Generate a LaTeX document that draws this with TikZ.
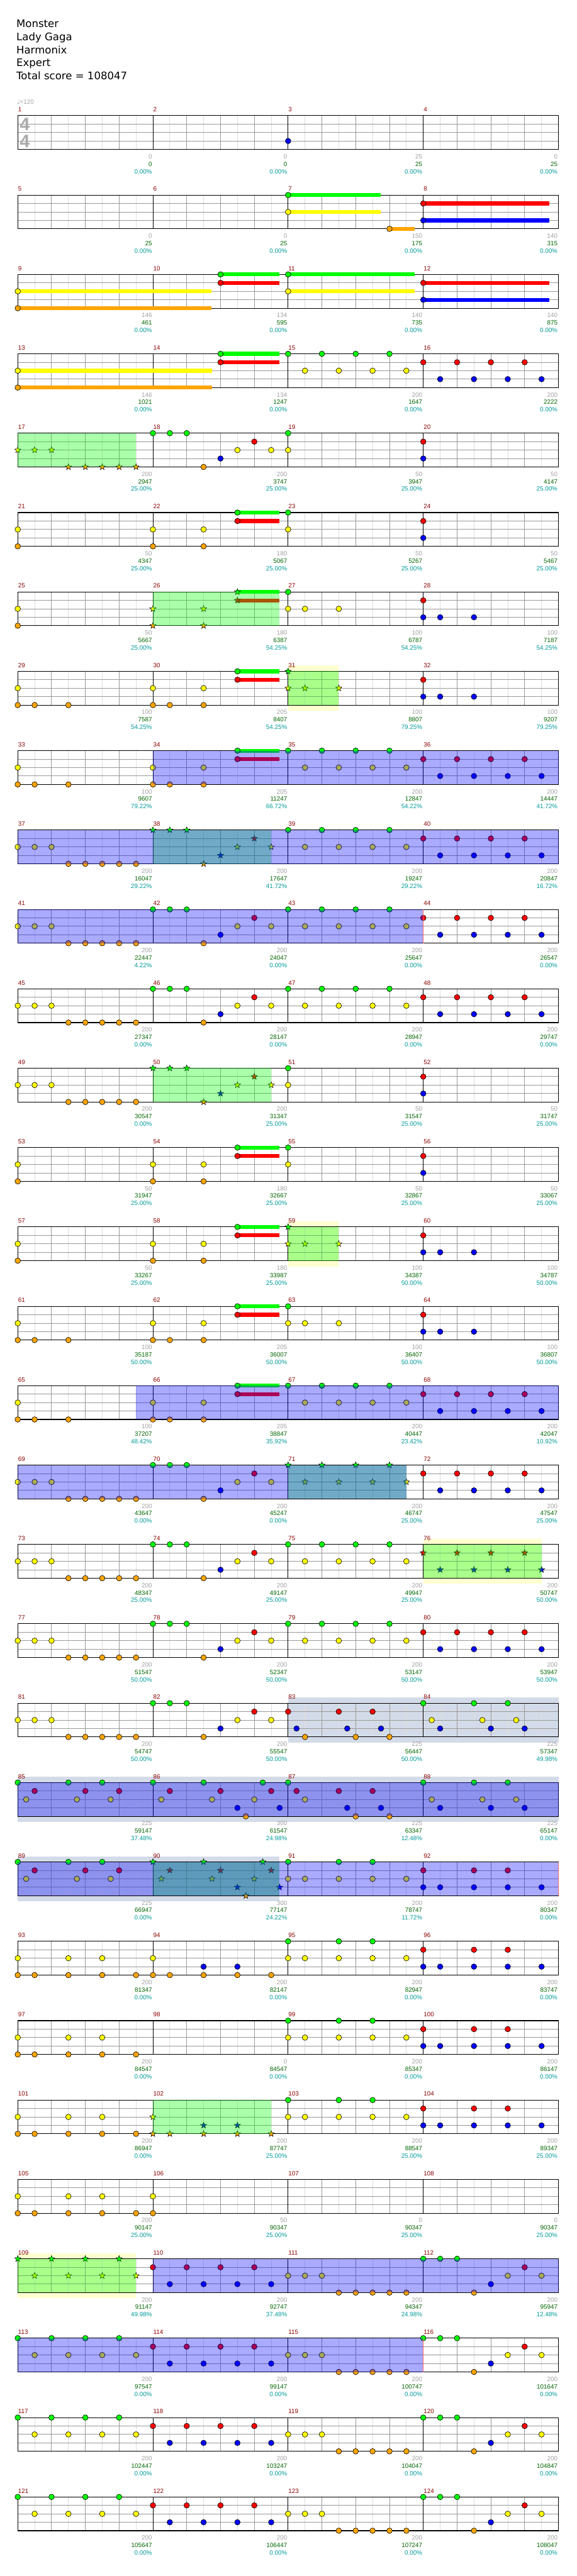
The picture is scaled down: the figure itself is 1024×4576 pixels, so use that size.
\documentclass[tikz,border=0pt]{standalone}
\usepackage{fontspec}
\setmainfont{Liberation Sans}
\newfontfamily\dejavu{DejaVu Sans}
\usetikzlibrary{shapes.geometric}
\definecolor{cG}{RGB}{0,255,0}
\definecolor{cR}{RGB}{255,0,0}
\definecolor{cY}{RGB}{255,255,0}
\definecolor{cB}{RGB}{0,0,255}
\definecolor{cO}{RGB}{255,165,0}
\definecolor{cPY}{RGB}{255,255,208}
\definecolor{cGB}{RGB}{212,219,232}
\definecolor{cLight}{RGB}{222,222,222}
\definecolor{cMid}{RGB}{153,153,153}
\definecolor{cGrayT}{RGB}{160,160,160}
\definecolor{cGreenT}{RGB}{0,100,0}
\definecolor{cTeal}{RGB}{0,153,153}
\definecolor{cMN}{RGB}{139,0,0}
\definecolor{cSig}{RGB}{170,170,170}
\tikzset{
 gl/.style={cLight, line width=1},
 gb/.style={cMid, line width=1},
 ml/.style={black, line width=1},
 bd/.style={black, line width=1.2},
 nt/.style={draw=black, line width=0.7},
 stn/.style={star, star points=5, star point ratio=2.4, minimum size=11.5, inner sep=0, draw=black, line width=0.6},
 lab/.style={inner sep=0, anchor=base east, font=\fontsize{11}{11}\selectfont},
 mn/.style={inner sep=0, anchor=base west, text=cMN, font=\fontsize{11}{11}\selectfont},
 ttl/.style={inner sep=0, anchor=base west, font=\dejavu\fontsize{18.5}{18.5}\selectfont},
 sig/.style={inner sep=0, text=cSig, font=\bfseries\fontsize{32}{32}\selectfont}
}
\newcommand\staff{%
 \foreach \m in {0,1,2,3}{%
  \foreach \k in {1,3,5,7}{\draw[gl] ({31.5+240*\m+30*\k},0) -- ++(0,60);}%
  \foreach \k in {2,4,6}{\draw[gb] ({31.5+240*\m+30*\k},0) -- ++(0,60);}%
 }%
 \foreach \yy in {15,30,45}{\draw[gb] (31.5,\yy) -- (991.5,\yy);}%
 \foreach \xx in {271.5,511.5,751.5}{\draw[ml] (\xx,0) -- (\xx,60);}%
 \draw[bd] (31.5,0) rectangle (991.5,60);%
}
\newcommand\nte[3]{\foreach \p in {#3}{\draw[nt,fill=#2] ({31.5+30*\p},{15*#1}) circle[radius=4.9pt];}}
\newcommand\sta[3]{\foreach \p in {#3}{\node[stn,fill=#2] at ({31.5+30*\p},{15*#1}) {};}}
\newcommand\sus[4]{\fill[#2] ({31.5+30*#3},{15*#1-3.5}) rectangle ({31.5+30*#4},{15*#1+3.5});}
\newcommand\spz[2]{\fill[cG, fill opacity=0.3333] ({31.5+30*#1},0) rectangle ({31.5+30*#2},60);}
\newcommand\odz[2]{\fill[cB, fill opacity=0.3333] ({31.5+30*#1},0) rectangle ({31.5+30*#2},60);}
\newcommand\odend[1]{\draw[cR!60, line width=0.8] ({31.5+30*#1},0) -- ++(0,60);}
\newcommand\pyb[2]{\fill[cPY] ({31.5+30*#1},-10) rectangle ({31.5+30*#2},70);}
\newcommand\gbb[2]{\fill[cGB] ({31.5+30*#1},-10) rectangle ({31.5+30*#2},70);}
\newcommand\MN[1]{\foreach \k in {0,1,2,3}{\pgfmathtruncatemacro\mnum{#1+\k}\node[mn] (m\mnum) at ({32+240*\k},-7) {\mnum};}}
\newcommand\LR[1]{\foreach \g/\s/\q [count=\i] in {#1}{%
 \node[lab,text=cGrayT] at ({30+240*\i},76.5) {\g};%
 \node[lab,text=cGreenT] at ({30+240*\i},89.7) {\s};%
 \node[lab,text=cTeal] at ({30+240*\i},103) {\q\%};}}
\newcommand\Aone[1]{#1{2}{cY}{0,1,2}#1{4}{cO}{3,4,5,6,7}}
\newcommand\Atwo[1]{#1{0}{cG}{8,9,10}#1{4}{cO}{11}#1{3}{cB}{12}#1{2}{cY}{13,15}#1{1}{cR}{14}}
\newcommand\Athree[1]{#1{0}{cG}{16,18,20,22}#1{2}{cY}{17,19,21,23}}
\newcommand\Afour[1]{#1{1}{cR}{24,26,28,30}#1{3}{cB}{25,27,29,31}}
\newcommand\Bone[1]{#1{0}{cG}{0,2,4,6}#1{2}{cY}{1,3,5,7}}
\newcommand\Btwo[1]{#1{1}{cR}{8,10,12,14}#1{3}{cB}{9,11,13,15}}
\newcommand\Bthree[1]{#1{2}{cY}{16,17,18}#1{4}{cO}{19,20,21,22,23}}
\newcommand\Bfour[1]{#1{0}{cG}{24,25,26}#1{4}{cO}{27}#1{3}{cB}{28}#1{2}{cY}{29,31}#1{1}{cR}{30}}
\newcommand\Cone[1]{#1{2}{cY}{0,3,5}#1{4}{cO}{0,1,3,5,7}}
\newcommand\Cthree[1]{#1{0}{cG}{16,19,21}#1{2}{cY}{16,17,19,21,23}}
\newcommand\Cfour[1]{#1{1}{cR}{24,27,29}#1{3}{cB}{24,25,27,29,31}}
\newcommand\GRsus{\sus{0}{cG}{13}{15.48}\sus{1}{cR}{13}{15.48}\nte{0}{cG}{13}\nte{1}{cR}{13}}
\begin{document}
\begin{tikzpicture}[x=1pt,y=-1pt]
\useasboundingbox (0,0) rectangle (1024,4576);
\node[ttl] (t1) at (29,49) {Monster};
\node[ttl] (t2) at (29,72) {Lady Gaga};
\node[ttl] (t3) at (29,95) {Harmonix};
\node[ttl] (t4) at (29,118) {Expert};
\node[ttl] (t5) at (29,141) {Total score = 108047};
% row 0
\begin{scope}[shift={(0,205.5)}]
\staff \MN{1}
\node[sig] (s1) at (44,15.5) {4};
\node[sig] (s2) at (44,45) {4};
\node[inner sep=0, anchor=base west, text=cGrayT, font=\fontsize{11}{11}\selectfont] (tempo) at (30,-20.5) {{\dejavu ♩}=120};
\nte{3}{cB}{16}
\LR{0/0/0.00, 0/0/0.00, 25/25/0.00, 0/25/0.00}
\end{scope}
% row 1
\begin{scope}[shift={(0,346.5)}]
\staff \MN{5}
\sus{0}{cG}{16}{21.48}\sus{2}{cY}{16}{21.48}\sus{4}{cO}{22}{23.49}\sus{1}{cR}{24}{31.45}\sus{3}{cB}{24}{31.45}
\nte{0}{cG}{16}\nte{2}{cY}{16}\nte{4}{cO}{22}\nte{1}{cR}{24}\nte{3}{cB}{24}
\LR{0/25/0.00, 0/25/0.00, 150/175/0.00, 140/315/0.00}
\end{scope}
% row 2
\begin{scope}[shift={(0,487.5)}]
\staff \MN{9}
\sus{2}{cY}{0}{11.45}\sus{4}{cO}{0}{11.45}\sus{0}{cG}{12}{15.48}\sus{1}{cR}{12}{15.48}\sus{0}{cG}{16}{23.49}\sus{2}{cY}{16}{23.49}\sus{1}{cR}{24}{31.45}\sus{3}{cB}{24}{31.45}
\nte{2}{cY}{0,16}\nte{4}{cO}{0}\nte{0}{cG}{12,16}\nte{1}{cR}{12,24}\nte{3}{cB}{24}
\LR{146/461/0.00, 134/595/0.00, 140/735/0.00, 140/875/0.00}
\end{scope}
% row 3
\begin{scope}[shift={(0,628.5)}]
\staff \MN{13}
\sus{2}{cY}{0}{11.5}\sus{4}{cO}{0}{11.5}\sus{0}{cG}{12}{15.48}\sus{1}{cR}{12}{15.48}
\nte{2}{cY}{0}\nte{4}{cO}{0}\nte{0}{cG}{12}\nte{1}{cR}{12}
\Athree\nte \Afour\nte
\LR{146/1021/0.00, 134/1247/0.00, 200/1647/0.00, 200/2222/0.00}
\end{scope}
% row 4
\begin{scope}[shift={(0,769.5)}]
\staff \MN{17}
\Aone\sta \Atwo\nte
\nte{0}{cG}{16}\nte{2}{cY}{16}\nte{1}{cR}{24}\nte{3}{cB}{24}
\spz{0}{7}
\LR{200/2947/25.00, 200/3747/25.00, 50/3947/25.00, 50/4147/25.00}
\end{scope}
% row 5
\begin{scope}[shift={(0,910.5)}]
\staff \MN{21}
\nte{2}{cY}{0,8,11}\nte{4}{cO}{0,8,11}\GRsus
\nte{0}{cG}{16}\nte{2}{cY}{16}\nte{1}{cR}{24}\nte{3}{cB}{24}
\LR{50/4347/25.00, 180/5067/25.00, 50/5267/25.00, 50/5467/25.00}
\end{scope}
% row 6
\begin{scope}[shift={(0,1051.5)}]
\staff \MN{25}
\nte{2}{cY}{0}\nte{4}{cO}{0}
\sta{2}{cY}{8,11}\sta{4}{cO}{8,11}
\sus{0}{cG}{13}{15.48}\sus{1}{cR}{13}{15.48}\sta{0}{cG}{13}\sta{1}{cR}{13}
\nte{0}{cG}{16}\nte{2}{cY}{16,17,19}\nte{1}{cR}{24}\nte{3}{cB}{24,25,27}
\spz{8}{15.48}
\LR{50/5667/25.00, 180/6387/54.25, 100/6787/54.25, 100/7187/54.25}
\end{scope}
% row 7
\begin{scope}[shift={(0,1192.5)}]
\pyb{16}{19}
\staff \MN{29}
\nte{2}{cY}{0,8,11}\nte{4}{cO}{0,1,3,8,9,11}\GRsus
\sta{0}{cG}{16}\sta{2}{cY}{16,17,19}
\nte{1}{cR}{24}\nte{3}{cB}{24,25,27}
\spz{16}{19}
\LR{100/7587/54.25, 205/8407/54.25, 100/8807/79.25, 100/9207/79.25}
\end{scope}
% row 8
\begin{scope}[shift={(0,1333.5)}]
\staff \MN{33}
\nte{2}{cY}{0,8,11}\nte{4}{cO}{0,1,3,8,9,11}\GRsus
\Athree\nte \Afour\nte
\odz{8}{32}
\LR{100/9607/79.22, 205/11247/66.72, 200/12847/54.22, 200/14447/41.72}
\end{scope}
% row 9
\begin{scope}[shift={(0,1474.5)}]
\staff \MN{37}
\Aone\nte \Atwo\sta \Athree\nte \Afour\nte
\spz{8}{15}\odz{0}{32}
\LR{200/16047/29.22, 200/17647/41.72, 200/19247/29.22, 200/20847/16.72}
\end{scope}
% row 10
\begin{scope}[shift={(0,1615.5)}]
\staff \MN{41}
\Aone\nte \Atwo\nte \Athree\nte \Afour\nte
\odz{0}{24}\odend{24}
\LR{200/22447/4.22, 200/24047/0.00, 200/25647/0.00, 200/26547/0.00}
\end{scope}
% row 11
\begin{scope}[shift={(0,1756.5)}]
\staff \MN{45}
\Aone\nte \Atwo\nte \Athree\nte \Afour\nte
\LR{200/27347/0.00, 200/28147/0.00, 200/28947/0.00, 200/29747/0.00}
\end{scope}
% row 12
\begin{scope}[shift={(0,1897.5)}]
\staff \MN{49}
\Aone\nte \Atwo\sta
\nte{0}{cG}{16}\nte{2}{cY}{16}\nte{1}{cR}{24}\nte{3}{cB}{24}
\spz{8}{15}
\LR{200/30547/0.00, 200/31347/25.00, 50/31547/25.00, 50/31747/25.00}
\end{scope}
% row 13
\begin{scope}[shift={(0,2038.5)}]
\staff \MN{53}
\nte{2}{cY}{0,8,11}\nte{4}{cO}{0,8,11}\GRsus
\nte{0}{cG}{16}\nte{2}{cY}{16}\nte{1}{cR}{24}\nte{3}{cB}{24}
\LR{50/31947/25.00, 180/32667/25.00, 50/32867/25.00, 50/33067/25.00}
\end{scope}
% row 14
\begin{scope}[shift={(0,2179.5)}]
\pyb{16}{19}
\staff \MN{57}
\nte{2}{cY}{0,8,11}\nte{4}{cO}{0,8,11}\GRsus
\sta{0}{cG}{16}\sta{2}{cY}{16,17,19}
\nte{1}{cR}{24}\nte{3}{cB}{24,25,27}
\spz{16}{19}
\LR{50/33267/25.00, 180/33987/25.00, 100/34387/50.00, 100/34787/50.00}
\end{scope}
% row 15
\begin{scope}[shift={(0,2320.5)}]
\staff \MN{61}
\nte{2}{cY}{0,8,11}\nte{4}{cO}{0,1,3,8,9,11}\GRsus
\nte{0}{cG}{16}\nte{2}{cY}{16,17,19}
\nte{1}{cR}{24}\nte{3}{cB}{24,25,27}
\LR{100/35187/50.00, 205/36007/50.00, 100/36407/50.00, 100/36807/50.00}
\end{scope}
% row 16
\begin{scope}[shift={(0,2461.5)}]
\staff \MN{65}
\nte{2}{cY}{0,8,11}\nte{4}{cO}{0,1,3,8,9,11}\GRsus
\Athree\nte \Afour\nte
\odz{7}{32}
\LR{100/37207/48.42, 205/38847/35.92, 200/40447/23.42, 200/42047/10.92}
\end{scope}
% row 17
\begin{scope}[shift={(0,2602.5)}]
\staff \MN{69}
\Aone\nte \Atwo\nte \Athree\sta \Afour\nte
\spz{16}{23}\odz{0}{23}
\LR{200/43647/0.00, 200/45247/0.00, 200/46747/25.00, 200/47547/25.00}
\end{scope}
% row 18
\begin{scope}[shift={(0,2743.5)}]
\pyb{24}{31}
\staff \MN{73}
\Aone\nte \Atwo\nte \Athree\nte \Afour\sta
\spz{24}{31}
\LR{200/48347/25.00, 200/49147/25.00, 200/49947/25.00, 200/50747/50.00}
\end{scope}
% row 19
\begin{scope}[shift={(0,2884.5)}]
\staff \MN{77}
\Aone\nte \Atwo\nte \Athree\nte \Afour\nte
\LR{200/51547/50.00, 200/52347/50.00, 200/53147/50.00, 200/53947/50.00}
\end{scope}
% row 20
\begin{scope}[shift={(0,3025.5)}]
\gbb{16}{32}
\staff \MN{81}
\Aone\nte \Atwo\nte
\nte{1}{cR}{16,19,21}\nte{3}{cB}{16.5,19.5,21.5,25,28,30}\nte{4}{cO}{17,20,22}
\nte{0}{cG}{24,27,29}\nte{2}{cY}{24.5,27.5,29.5}
\LR{200/54747/50.00, 200/55547/50.00, 225/56447/50.00, 225/57347/49.98}
\end{scope}
% row 21
\begin{scope}[shift={(0,3166.5)}]
\gbb{0}{32}
\staff \MN{85}
\nte{0}{cG}{0,3,5,8,11,14.5,16,24,27,29}
\nte{1}{cR}{1,4,6,9,12,15,16.5,19,21}
\nte{2}{cY}{0.5,3.5,5.5,8.5,11.5,14,17,24.5,27.5,29.5}
\nte{3}{cB}{13,15.5,19.5,21.5,25,28,30}
\nte{4}{cO}{13.5,20,22}
\odz{0}{32}
\LR{225/59147/37.48, 300/61547/24.98, 225/63347/12.48, 225/65147/0.00}
\end{scope}
% row 22
\begin{scope}[shift={(0,3307.5)}]
\gbb{0}{15.5}
\staff \MN{89}
\nte{0}{cG}{0,3,5}\nte{2}{cY}{0.5,3.5,5.5}\nte{1}{cR}{1,4,6}
\sta{0}{cG}{8,11,14.5}\sta{2}{cY}{8.5,11.5,14}\sta{1}{cR}{9,12,15}\sta{3}{cB}{13,15.5}\sta{4}{cO}{13.5}
\Cthree\nte \Cfour\nte
\spz{8}{15.5}\odz{0}{32}\odend{32}
\LR{225/66947/0.00, 300/77147/24.22, 200/78747/11.72, 200/80347/0.00}
\end{scope}
% row 23
\begin{scope}[shift={(0,3448.5)}]
\staff \MN{93}
\nte{2}{cY}{0,3,5,8}\nte{4}{cO}{0,1,3,5,7,8,9,11,13,15}\nte{3}{cB}{11,13}
\Cthree\nte \Cfour\nte
\LR{200/81347/0.00, 200/82147/0.00, 200/82947/0.00, 200/83747/0.00}
\end{scope}
% row 24
\begin{scope}[shift={(0,3589.5)}]
\staff \MN{97}
\Cone\nte \Cthree\nte \Cfour\nte
\LR{200/84547/0.00, 0/84547/0.00, 200/85347/0.00, 200/86147/0.00}
\end{scope}
% row 25
\begin{scope}[shift={(0,3730.5)}]
\staff \MN{101}
\Cone\nte
\sta{2}{cY}{8}\sta{4}{cO}{8,9,11,13,15}\sta{3}{cB}{11,13}
\Cthree\nte \Cfour\nte
\spz{8}{15}
\LR{200/86947/0.00, 200/87747/25.00, 200/88547/25.00, 200/89347/25.00}
\end{scope}
% row 26
\begin{scope}[shift={(0,3871.5)}]
\staff \MN{105}
\Cone\nte \nte{2}{cY}{8}\nte{4}{cO}{8}
\LR{200/90147/25.00, 50/90347/25.00, 0/90347/25.00, 0/90347/25.00}
\end{scope}
% row 27
\begin{scope}[shift={(0,4012.5)}]
\pyb{0}{7}
\staff \MN{109}
\Bone\sta \Btwo\nte \Bthree\nte \Bfour\nte
\spz{0}{7}\odz{8}{32}
\LR{200/91147/49.98, 200/92747/37.48, 200/94347/24.98, 200/95947/12.48}
\end{scope}
% row 28
\begin{scope}[shift={(0,4153.5)}]
\staff \MN{113}
\Bone\nte \Btwo\nte \Bthree\nte \Bfour\nte
\odz{0}{24}\odend{24}
\LR{200/97547/0.00, 200/99147/0.00, 200/100747/0.00, 200/101647/0.00}
\end{scope}
% row 29
\begin{scope}[shift={(0,4294.5)}]
\staff \MN{117}
\Bone\nte \Btwo\nte \Bthree\nte \Bfour\nte
\LR{200/102447/0.00, 200/103247/0.00, 200/104047/0.00, 200/104847/0.00}
\end{scope}
% row 30
\begin{scope}[shift={(0,4435.5)}]
\staff \MN{121}
\Bone\nte \Btwo\nte \Bthree\nte \Bfour\nte
\LR{200/105647/0.00, 200/106447/0.00, 200/107247/0.00, 200/108047/0.00}
\end{scope}
\end{tikzpicture}
\end{document}
